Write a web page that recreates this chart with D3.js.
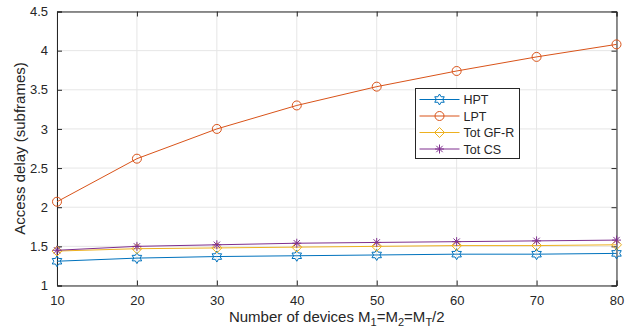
<!DOCTYPE html>
<html>
<head>
<meta charset="utf-8">
<script src="https://cdn.jsdelivr.net/npm/d3@7"></script>
<style>
body { margin: 0; background: #fff; }
text { font-family: "Liberation Sans", Arial, sans-serif; fill: #262626; }
</style>
</head>
<body>
<script>
var devices = [10, 20, 30, 40, 50, 60, 70, 80];
var hpt   = [1.31, 1.35, 1.37, 1.38, 1.39, 1.40, 1.40, 1.41];
var lpt   = [2.07, 2.62, 3.00, 3.30, 3.54, 3.74, 3.92, 4.08];
var gfr   = [1.44, 1.47, 1.48, 1.49, 1.50, 1.51, 1.51, 1.52];
var cs    = [1.45, 1.50, 1.52, 1.54, 1.55, 1.56, 1.57, 1.58];
var seriesNames = ["HPT", "LPT", "Tot GF-R", "Tot CS"];
var xTicks = [10, 20, 30, 40, 50, 60, 70, 80];
var yTicks = [1, 1.5, 2, 2.5, 3, 3.5, 4, 4.5];

var w = 637, h = 334,
    pL = 57, pR = 616.5, pT = 11.5, pB = 285.5;

var svg = d3.select("body").append("svg")
    .attr("width", w)
    .attr("height", h);

var x = d3.scaleLinear().domain([10, 80]).range([pL, pR]);
var y = d3.scaleLinear().domain([1, 4.5]).range([pB, pT]);

// grid
svg.append("g").selectAll("line")
    .data(xTicks).enter().append("line")
    .attr("x1", function(d) { return x(d); })
    .attr("x2", function(d) { return x(d); })
    .attr("y1", pT).attr("y2", pB)
    .attr("stroke", "#e6e6e6").attr("stroke-width", 1);
svg.append("g").selectAll("line")
    .data(yTicks).enter().append("line")
    .attr("y1", function(d) { return y(d); })
    .attr("y2", function(d) { return y(d); })
    .attr("x1", pL).attr("x2", pR)
    .attr("stroke", "#e6e6e6").attr("stroke-width", 1);

// axes (ticks pointing inward)
var xAxis = d3.axisBottom(x).tickValues(xTicks).tickSize(-5).tickPadding(10);
var yAxis = d3.axisLeft(y).tickValues(yTicks).tickSize(-5).tickPadding(9)
    .tickFormat(function(d) { return d; });

var gx = svg.append("g").attr("transform", "translate(0," + pB + ")").call(xAxis);
var gy = svg.append("g").attr("transform", "translate(" + pL + ",0)").call(yAxis);
var gxt = svg.append("g").attr("transform", "translate(0," + pT + ")")
    .call(d3.axisTop(x).tickValues(xTicks).tickSize(-5).tickFormat(""));
var gyr = svg.append("g").attr("transform", "translate(" + pR + ",0)")
    .call(d3.axisRight(y).tickValues(yTicks).tickSize(-5).tickFormat(""));

[gx, gy, gxt, gyr].forEach(function(g) {
  g.select(".domain").attr("stroke", "#262626").attr("stroke-width", 1);
  g.selectAll(".tick line").attr("stroke", "#262626");
  g.selectAll(".tick text").style("font-size", "13px").attr("fill", "#262626")
    .style("font-family", "'Liberation Sans', Arial, sans-serif");
});

// axis labels
var xl = svg.append("text")
    .attr("x", (pL + pR) / 2)
    .attr("y", 322)
    .attr("text-anchor", "middle")
    .style("font-size", "15px");
xl.append("tspan").text("Number of devices M");
xl.append("tspan").attr("dy", 4).style("font-size", "11px").text("1");
xl.append("tspan").attr("dy", -4).text("=M");
xl.append("tspan").attr("dy", 4).style("font-size", "11px").text("2");
xl.append("tspan").attr("dy", -4).text("=M");
xl.append("tspan").attr("dy", 4).style("font-size", "11px").text("T");
xl.append("tspan").attr("dy", -4).text("/2");

svg.append("text")
    .attr("transform", "translate(25," + ((pT + pB) / 2) + ") rotate(-90)")
    .attr("text-anchor", "middle")
    .style("font-size", "15px")
    .text("Access delay (subframes)");

// markers
function hexagram(s) {
  var out = [];
  for (var k = 0; k < 12; k++) {
    var ang = -Math.PI / 2 + k * Math.PI / 6;
    var rr = (k % 2 === 0) ? s : s / Math.sqrt(3);
    out.push([rr * Math.cos(ang), rr * Math.sin(ang)]);
  }
  return "M" + out.map(function(p) { return p[0].toFixed(2) + "," + p[1].toFixed(2); }).join("L") + "Z";
}
function circle(s) {
  return "M" + s + ",0A" + s + "," + s + " 0 1,1 " + (-s) + ",0A" + s + "," + s + " 0 1,1 " + s + ",0Z";
}
function diamond(s) {
  return "M0," + (-s) + "L" + s + ",0L0," + s + "L" + (-s) + ",0Z";
}
function asterisk(s) {
  var p = "";
  for (var k = 0; k < 4; k++) {
    var a = k * Math.PI / 4;
    var dx = s * Math.cos(a), dy = s * Math.sin(a);
    p += "M" + (-dx).toFixed(2) + "," + (-dy).toFixed(2) + "L" + dx.toFixed(2) + "," + dy.toFixed(2);
  }
  return p;
}

var series = [
  { name: seriesNames[0], values: hpt, color: "#0072BD", marker: hexagram(5.5) },
  { name: seriesNames[1], values: lpt, color: "#D95319", marker: circle(4.5) },
  { name: seriesNames[2], values: gfr, color: "#EDB120", marker: diamond(5) },
  { name: seriesNames[3], values: cs,  color: "#7E2F8E", marker: asterisk(4.5) }
];

var line = d3.line()
    .x(function(d, i) { return x(devices[i]); })
    .y(function(d) { return y(d); });

series.forEach(function(s) {
  svg.append("path")
      .datum(s.values)
      .attr("d", line)
      .attr("fill", "none")
      .attr("stroke", s.color)
      .attr("stroke-width", 1);
  svg.append("g").selectAll("path")
      .data(s.values).enter().append("path")
      .attr("transform", function(d, i) { return "translate(" + x(devices[i]) + "," + y(d) + ")"; })
      .attr("d", s.marker)
      .attr("fill", "none")
      .attr("stroke", s.color)
      .attr("stroke-width", 1);
});

// legend
var lx = 415.5, ly = 88.5, lw = 104, lh = 70;
var leg = svg.append("g");
leg.append("rect")
    .attr("x", lx).attr("y", ly).attr("width", lw).attr("height", lh)
    .attr("fill", "#fff").attr("stroke", "#262626").attr("stroke-width", 1);
series.forEach(function(s, i) {
  var yy = ly + 11 + i * 16.5;
  leg.append("line")
      .attr("x1", lx + 4).attr("x2", lx + 44)
      .attr("y1", yy).attr("y2", yy)
      .attr("stroke", s.color).attr("stroke-width", 1);
  leg.append("path")
      .attr("transform", "translate(" + (lx + 24) + "," + yy + ")")
      .attr("d", s.marker)
      .attr("fill", "none").attr("stroke", s.color);
  leg.append("text")
      .attr("x", lx + 48).attr("y", yy + 4.5)
      .style("font-size", "12.5px")
      .text(s.name);
});
</script>
</body>
</html>
